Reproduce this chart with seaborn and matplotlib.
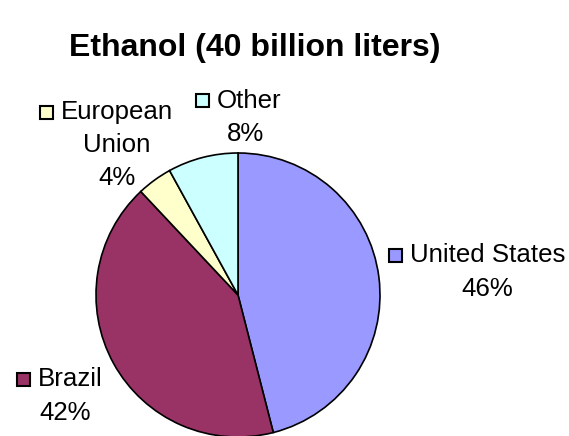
import matplotlib
matplotlib.use("Agg")
import matplotlib.pyplot as plt
from matplotlib.patches import Rectangle
import seaborn as sns

# Ethanol production share by region
regions = ["United States", "Brazil", "European Union", "Other"]
shares = [46, 42, 4, 8]
colors = ["#9999FF", "#993366", "#FFFFCC", "#CCFFFF"]
title = "Ethanol (40 billion liters)"

sns.set_theme(style="white")
plt.rcParams["font.family"] = ["Liberation Sans", "DejaVu Sans"]

W, H = 569, 436
fig = plt.figure(figsize=(W / 100, H / 100), dpi=100)
ax = fig.add_axes([0, 0, 1, 1])

# pie laid out in pixel coordinates (y grows downward after inversion),
# so -90 degrees points to the top of the image and slices run clockwise
cx, cy, r = 238, 295, 142
wedges, _ = ax.pie(shares, colors=colors, startangle=-90, counterclock=True,
                   center=(cx, cy), radius=r,
                   wedgeprops=dict(edgecolor="black", linewidth=1.2))
ax.set_xlim(0, W)
ax.set_ylim(H, 0)
ax.set_aspect("equal")
ax.axis("off")

ax.text(255, 48, title, ha="center", va="center", fontsize=23,
        fontweight="bold", color="black")

lab_fs = 18.6


def label(key_x, key_y, text_lines, pct, color, line_h=34, center_x=None):
    ax.add_patch(Rectangle((key_x, key_y - 6.5), 13, 13, facecolor=color,
                           edgecolor="black", linewidth=1.5, zorder=5))
    ax.text(key_x + 21, key_y, text_lines[0], ha="left", va="center",
            fontsize=lab_fs, color="black")
    y = key_y
    for extra in text_lines[1:] + [pct]:
        y += line_h
        ax.text(center_x, y, extra, ha="center", va="center",
                fontsize=lab_fs, color="black")


label(389, 255, ["United States"], f"{shares[0]}%", colors[0], center_x=487)
label(17, 379, ["Brazil"], f"{shares[1]}%", colors[1], center_x=65)
label(40, 112, ["European", "Union"], f"{shares[2]}%", colors[2], line_h=33, center_x=117)
label(196, 101, ["Other"], f"{shares[3]}%", colors[3], line_h=33, center_x=246)

fig.savefig("out.png", dpi=100)
